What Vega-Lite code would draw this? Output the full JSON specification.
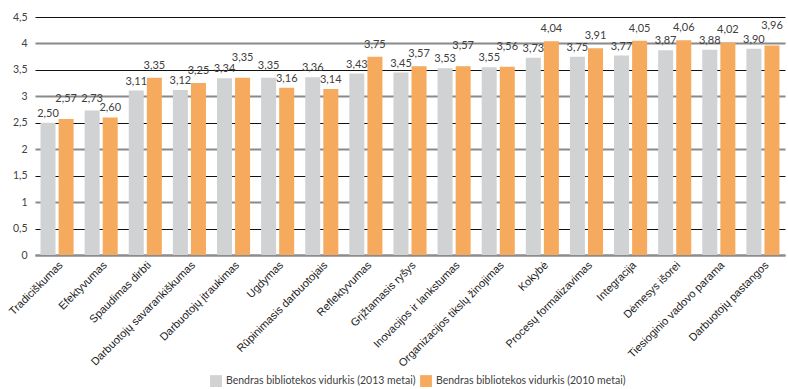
{
  "$schema": "https://vega.github.io/schema/vega-lite/v6.json",
  "width": 750,
  "height": 238,
  "autosize": {"type": "none"},
  "padding": {"left": 35, "top": 17, "right": 3, "bottom": 134},
  "background": "#ffffff",
  "config": {
    "locale": {"number": {"decimal": ",", "thousands": " ", "grouping": [3], "currency": ["", " €"]}},
    "view": {"stroke": null}
  },
  "data": {
    "values": [
      {"veiksnys": "Tradiciškumas", "serija": "Bendras bibliotekos vidurkis (2013 metai)", "vidurkis": 2.50},
      {"veiksnys": "Tradiciškumas", "serija": "Bendras bibliotekos vidurkis (2010 metai)", "vidurkis": 2.57},
      {"veiksnys": "Efektyvumas", "serija": "Bendras bibliotekos vidurkis (2013 metai)", "vidurkis": 2.73},
      {"veiksnys": "Efektyvumas", "serija": "Bendras bibliotekos vidurkis (2010 metai)", "vidurkis": 2.60},
      {"veiksnys": "Spaudimas dirbti", "serija": "Bendras bibliotekos vidurkis (2013 metai)", "vidurkis": 3.11},
      {"veiksnys": "Spaudimas dirbti", "serija": "Bendras bibliotekos vidurkis (2010 metai)", "vidurkis": 3.35},
      {"veiksnys": "Darbuotojų savarankiškumas", "serija": "Bendras bibliotekos vidurkis (2013 metai)", "vidurkis": 3.12},
      {"veiksnys": "Darbuotojų savarankiškumas", "serija": "Bendras bibliotekos vidurkis (2010 metai)", "vidurkis": 3.25},
      {"veiksnys": "Darbuotojų įtraukimas", "serija": "Bendras bibliotekos vidurkis (2013 metai)", "vidurkis": 3.34},
      {"veiksnys": "Darbuotojų įtraukimas", "serija": "Bendras bibliotekos vidurkis (2010 metai)", "vidurkis": 3.35},
      {"veiksnys": "Ugdymas", "serija": "Bendras bibliotekos vidurkis (2013 metai)", "vidurkis": 3.35},
      {"veiksnys": "Ugdymas", "serija": "Bendras bibliotekos vidurkis (2010 metai)", "vidurkis": 3.16},
      {"veiksnys": "Rūpinimasis darbuotojais", "serija": "Bendras bibliotekos vidurkis (2013 metai)", "vidurkis": 3.36},
      {"veiksnys": "Rūpinimasis darbuotojais", "serija": "Bendras bibliotekos vidurkis (2010 metai)", "vidurkis": 3.14},
      {"veiksnys": "Reflektyvumas", "serija": "Bendras bibliotekos vidurkis (2013 metai)", "vidurkis": 3.43},
      {"veiksnys": "Reflektyvumas", "serija": "Bendras bibliotekos vidurkis (2010 metai)", "vidurkis": 3.75},
      {"veiksnys": "Grįžtamasis ryšys", "serija": "Bendras bibliotekos vidurkis (2013 metai)", "vidurkis": 3.45},
      {"veiksnys": "Grįžtamasis ryšys", "serija": "Bendras bibliotekos vidurkis (2010 metai)", "vidurkis": 3.57},
      {"veiksnys": "Inovacijos ir lankstumas", "serija": "Bendras bibliotekos vidurkis (2013 metai)", "vidurkis": 3.53},
      {"veiksnys": "Inovacijos ir lankstumas", "serija": "Bendras bibliotekos vidurkis (2010 metai)", "vidurkis": 3.57},
      {"veiksnys": "Organizacijos tikslų žinojimas", "serija": "Bendras bibliotekos vidurkis (2013 metai)", "vidurkis": 3.55},
      {"veiksnys": "Organizacijos tikslų žinojimas", "serija": "Bendras bibliotekos vidurkis (2010 metai)", "vidurkis": 3.56},
      {"veiksnys": "Kokybė", "serija": "Bendras bibliotekos vidurkis (2013 metai)", "vidurkis": 3.73},
      {"veiksnys": "Kokybė", "serija": "Bendras bibliotekos vidurkis (2010 metai)", "vidurkis": 4.04},
      {"veiksnys": "Procesų formalizavimas", "serija": "Bendras bibliotekos vidurkis (2013 metai)", "vidurkis": 3.75},
      {"veiksnys": "Procesų formalizavimas", "serija": "Bendras bibliotekos vidurkis (2010 metai)", "vidurkis": 3.91},
      {"veiksnys": "Integracija", "serija": "Bendras bibliotekos vidurkis (2013 metai)", "vidurkis": 3.77},
      {"veiksnys": "Integracija", "serija": "Bendras bibliotekos vidurkis (2010 metai)", "vidurkis": 4.05},
      {"veiksnys": "Dėmesys išorei", "serija": "Bendras bibliotekos vidurkis (2013 metai)", "vidurkis": 3.87},
      {"veiksnys": "Dėmesys išorei", "serija": "Bendras bibliotekos vidurkis (2010 metai)", "vidurkis": 4.06},
      {"veiksnys": "Tiesioginio vadovo parama", "serija": "Bendras bibliotekos vidurkis (2013 metai)", "vidurkis": 3.88},
      {"veiksnys": "Tiesioginio vadovo parama", "serija": "Bendras bibliotekos vidurkis (2010 metai)", "vidurkis": 4.02},
      {"veiksnys": "Darbuotojų pastangos", "serija": "Bendras bibliotekos vidurkis (2013 metai)", "vidurkis": 3.90},
      {"veiksnys": "Darbuotojų pastangos", "serija": "Bendras bibliotekos vidurkis (2010 metai)", "vidurkis": 3.96}
    ]
  },
  "transform": [
    {"joinaggregate": [{"op": "max", "field": "vidurkis", "as": "didz"}, {"op": "min", "field": "vidurkis", "as": "maz"}], "groupby": ["veiksnys"]}
  ],
  "encoding": {
    "x": {
      "field": "veiksnys",
      "type": "nominal",
      "sort": null,
      "scale": {"paddingInner": 0.25, "paddingOuter": 0.125},
      "axis": {
        "title": null,
        "labelAngle": -45,
        "labelFont": "Liberation Sans",
        "labelFontSize": 11,
        "labelColor": "#1a1a1a",
        "labelPadding": 4,
        "ticks": false,
        "domainColor": "#8c8c8c",
        "domainWidth": 2,
        "labelLimit": 300
      }
    },
    "xOffset": {
      "field": "serija",
      "type": "nominal",
      "sort": ["Bendras bibliotekos vidurkis (2013 metai)", "Bendras bibliotekos vidurkis (2010 metai)"],
      "scale": {"paddingInner": 0.17, "paddingOuter": 0}
    },
    "y": {
      "field": "vidurkis",
      "type": "quantitative",
      "scale": {"domain": [0, 4.5], "nice": false},
      "axis": {
        "title": null,
        "values": [0, 0.5, 1, 1.5, 2, 2.5, 3, 3.5, 4, 4.5],
        "format": ".1~f",
        "labelFont": "Lato",
        "labelFontSize": 10.5,
        "labelColor": "#404040",
        "labelPadding": 8,
        "ticks": false,
        "domain": false,
        "gridColor": {"condition": {"test": "datum.value % 1 === 0", "value": "#8a8a8a"}, "value": "#111111"},
        "gridWidth": {"condition": {"test": "datum.value % 1 === 0", "value": 2}, "value": 1}
      }
    }
  },
  "layer": [
    {
      "mark": {"type": "bar"},
      "encoding": {
        "color": {
          "field": "serija",
          "type": "nominal",
          "sort": ["Bendras bibliotekos vidurkis (2013 metai)", "Bendras bibliotekos vidurkis (2010 metai)"],
          "scale": {
            "domain": ["Bendras bibliotekos vidurkis (2013 metai)", "Bendras bibliotekos vidurkis (2010 metai)"],
            "range": ["#d1d2d4", "#f5aa5d"]
          },
          "legend": {
            "title": null,
            "orient": "none",
            "direction": "horizontal",
            "legendX": 175,
            "legendY": 358,
            "symbolType": "square",
            "symbolSize": 140,
            "symbolStrokeWidth": 0,
            "symbolOpacity": 1,
            "labelFont": "Lato",
            "labelFontSize": 10.5,
            "labelColor": "#404040",
            "labelOffset": 4,
            "columnPadding": 4,
            "labelLimit": 400
          }
        }
      }
    },
    {
      "transform": [{"filter": "datum.serija === 'Bendras bibliotekos vidurkis (2013 metai)' && !(datum.vidurkis === datum.didz && datum.didz - datum.maz < 0.2)"}],
      "mark": {"type": "text", "baseline": "bottom", "dy": -4, "font": "Lato", "fontSize": 11, "color": "#404040"},
      "encoding": {
        "text": {"field": "vidurkis", "type": "quantitative", "format": ".2f"}
      }
    },
    {
      "transform": [{"filter": "datum.serija === 'Bendras bibliotekos vidurkis (2013 metai)' && datum.vidurkis === datum.didz && datum.didz - datum.maz < 0.2"}],
      "mark": {"type": "text", "baseline": "bottom", "dy": -7, "font": "Lato", "fontSize": 11, "color": "#404040"},
      "encoding": {
        "text": {"field": "vidurkis", "type": "quantitative", "format": ".2f"}
      }
    },
    {
      "transform": [{"filter": "datum.serija === 'Bendras bibliotekos vidurkis (2010 metai)' && datum.vidurkis < datum.didz"}],
      "mark": {"type": "text", "baseline": "bottom", "dy": -4, "font": "Lato", "fontSize": 11, "color": "#404040"},
      "encoding": {
        "text": {"field": "vidurkis", "type": "quantitative", "format": ".2f"}
      }
    },
    {
      "transform": [{"filter": "datum.serija === 'Bendras bibliotekos vidurkis (2010 metai)' && datum.vidurkis === datum.didz && datum.didz - datum.maz >= 0.1"}],
      "mark": {"type": "text", "baseline": "bottom", "dy": -7, "font": "Lato", "fontSize": 11, "color": "#404040"},
      "encoding": {
        "text": {"field": "vidurkis", "type": "quantitative", "format": ".2f"}
      }
    },
    {
      "transform": [{"filter": "datum.serija === 'Bendras bibliotekos vidurkis (2010 metai)' && datum.vidurkis === datum.didz && datum.didz - datum.maz < 0.1"}],
      "mark": {"type": "text", "baseline": "bottom", "dy": -15, "font": "Lato", "fontSize": 11, "color": "#404040"},
      "encoding": {
        "text": {"field": "vidurkis", "type": "quantitative", "format": ".2f"}
      }
    }
  ]
}
